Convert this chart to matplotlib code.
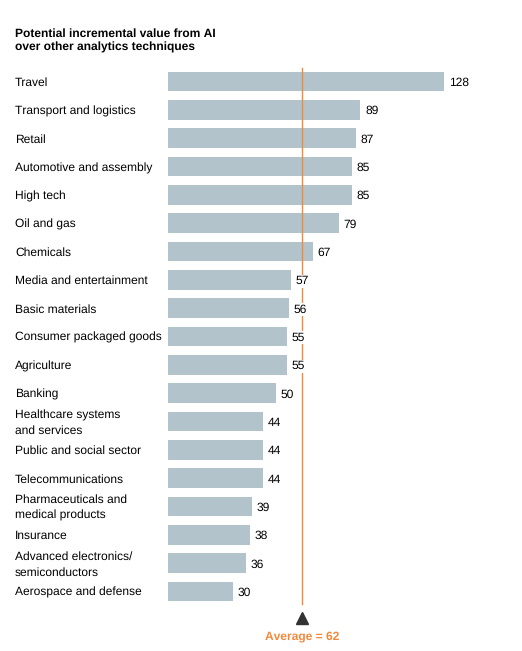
import matplotlib
matplotlib.use("Agg")
import matplotlib.pyplot as plt
import matplotlib.transforms as mtransforms

categories = ["Travel", "Transport and logistics", "Retail", "Automotive and assembly",
              "High tech", "Oil and gas", "Chemicals", "Media and entertainment",
              "Basic materials", "Consumer packaged goods", "Agriculture", "Banking",
              "Healthcare systems\nand services", "Public and social sector",
              "Telecommunications", "Pharmaceuticals and\nmedical products", "Insurance",
              "Advanced electronics/\nsemiconductors", "Aerospace and defense"]
values = [128, 89, 87, 85, 85, 79, 67, 57, 56, 55, 55, 50, 44, 44, 44, 39, 38, 36, 30]
average = 62
title = "Potential incremental value from AI\nover other analytics techniques"
avg_label = "Average = 62"

plt.rcParams['font.family'] = ['Liberation Sans', 'DejaVu Sans']
plt.rcParams['text.hinting'] = 'no_hinting'
plt.rcParams['text.hinting_factor'] = 1

W, H = 522, 651
fig = plt.figure(figsize=(W / 100, H / 100), dpi=100)
ax = fig.add_axes([0, 0, 1, 1])
ppu = 2.16
x0 = 168
y0, dy = 81.5, 28.33
ax.set_xlim(-x0 / ppu, (W - x0) / ppu)
ax.set_ylim((H - y0) / dy, -y0 / dy)
ax.axis('off')

bar_color = "#b2c3cc"
orange = "#f28a3c"
pos = list(range(len(categories)))
ax.barh(pos, values, height=0.70, color=bar_color, zorder=1)

ax.plot([average, average], [-0.48, 18.45], color=orange, lw=1.0, zorder=2)

fs = 8.6
toff = 0.05
blend = mtransforms.blended_transform_factory(fig.transFigure, ax.transData)
for i, (c, v) in enumerate(zip(categories, values)):
    ax.text(15 / W, i + toff, c, transform=blend, ha='left', va='center', fontsize=fs,
            linespacing=1.5, color='black')
    ax.text(v + 2.2, i + toff, str(v), ha='left', va='center', fontsize=fs, color='black',
            zorder=3, bbox=dict(facecolor='white', edgecolor='none', pad=0.6))

ax.plot([average], [18.92], marker='^', markersize=8, color='#333333',
        linestyle='none', zorder=4)
ax.text(average, 19.58, avg_label, ha='center', va='center', fontsize=fs,
        fontweight='bold', color=orange)

fig.text(15 / W, 1 - 28 / H, title, ha='left', va='top', fontsize=8.7,
         fontweight='bold', linespacing=1.3, color='black')

fig.savefig("out.png", dpi=100)
